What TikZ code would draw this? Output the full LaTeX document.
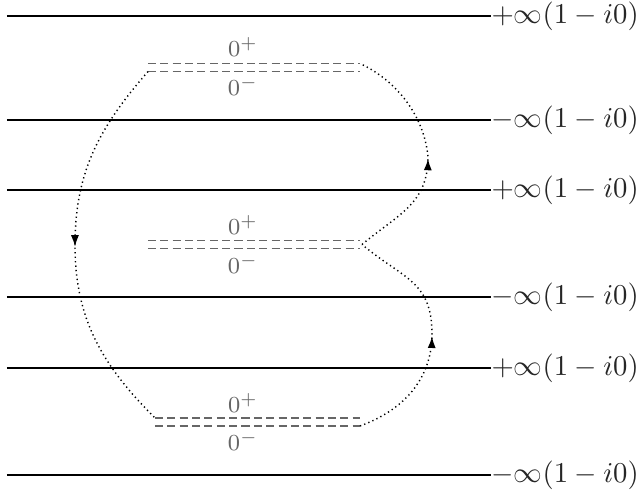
\documentclass[tikz,border=0pt]{standalone}
\usetikzlibrary{arrows.meta,decorations.markings}
\tikzset{
  sheet/.style={line width=0.42pt},
  cut/.style={black!60,line width=0.5pt,dash pattern=on 2.8pt off 1.5pt},
  cutlabel/.style={black!60,font=\footnotesize,inner sep=0pt},
  endlabel/.style={anchor=west,inner sep=0pt,text=black!85},
  contour/.style={line width=0.5pt,dash pattern=on 0.45pt off 1.1pt,
    decoration={markings,mark=at position #1 with {\arrow{Latex[length=4pt,width=2.8pt]}}},
    postaction={decorate}},
}
\begin{document}
\begin{tikzpicture}[x=0.348pt,y=-0.348pt]
\useasboundingbox (0,0) rectangle (642,491);

% sheets and their end values
\node[endlabel] (e1) at (491,16) {$+\infty(1-i0)$};
\node[endlabel] (e2) at (491,120) {$-\infty(1-i0)$};
\node[endlabel] (e3) at (491,190) {$+\infty(1-i0)$};
\node[endlabel] (e4) at (491,297) {$-\infty(1-i0)$};
\node[endlabel] (e5) at (491,368) {$+\infty(1-i0)$};
\node[endlabel] (e6) at (491,475) {$-\infty(1-i0)$};
\foreach \i/\y in {1/16,2/120,3/190,4/297,5/368,6/475}
  \draw[sheet] (7,\y) -- (e\i.west);

% cuts
\coordinate (tl) at (148,71.5);
\coordinate (tr) at (360,63.5);
\draw[cut] (148,63.5) -- (tr);
\draw[cut] (tl) -- (360,71.5);
\node[cutlabel] (tp) at (243,47) {$0^+$};
\node[cutlabel] (tm) at (243,86) {$0^-$};

\coordinate (mr) at (362,244.5);
\draw[cut] (148,240.5) -- (360,240.5);
\draw[cut] (148,248.5) -- (360,248.5);
\node[cutlabel] (mp) at (243,225) {$0^+$};
\node[cutlabel] (mm) at (243,264) {$0^-$};

\coordinate (bl) at (155,418);
\coordinate (br) at (360,426);
\draw[cut] (bl) -- (360,418);
\draw[cut] (155,426) -- (br);
\node[cutlabel] (bp) at (243,403) {$0^+$};
\node[cutlabel] (bm) at (243,441) {$0^-$};

% contour
\coordinate (ca) at (428,157);
\coordinate (cb) at (432,334);
\coordinate (cc) at (75,245);
\draw[contour=0.48] (mr) to[out=40,in=-90,looseness=1.1] (ca) to[out=95,in=-25,looseness=0.9] (tr);
\draw[contour=0.5] (br) to[out=20,in=-90] (cb) to[out=90,in=-40,looseness=1.2] (mr);
\draw[contour=0.5] (tl) to[out=-131,in=90] (cc) to[out=-90,in=135] (bl);
\end{tikzpicture}
\end{document}
